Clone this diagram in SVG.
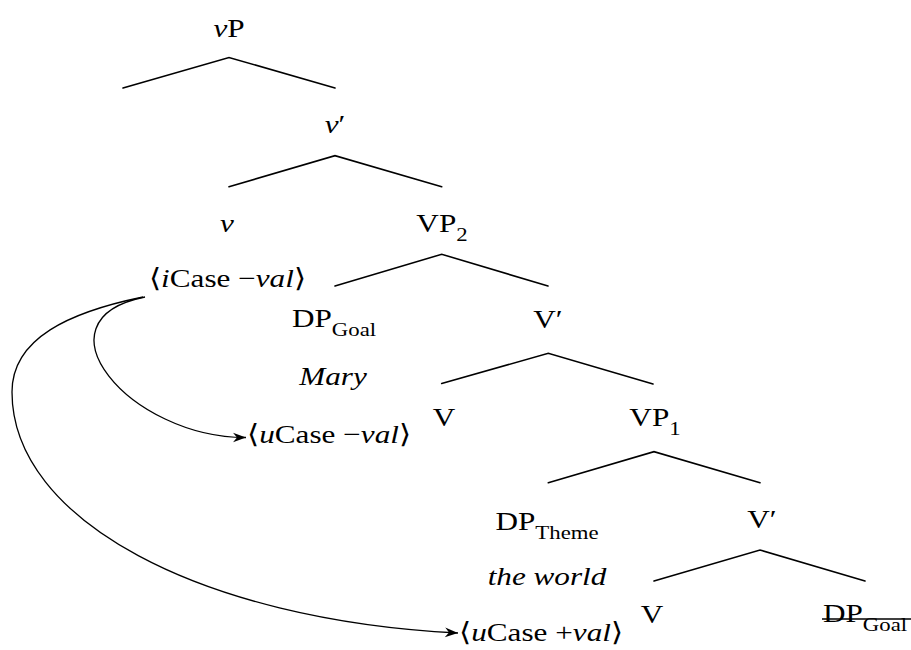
<svg xmlns="http://www.w3.org/2000/svg" width="911" height="650" viewBox="0 0 911 650">
  <defs>
    <style>
      .lbl { text-anchor: middle; }
      .it { font-style: italic; }
      .sub { font-size: 19px; }
      .edge { stroke: #000; stroke-width: 1.6; fill: none; stroke-linecap: round; }
      .agree { stroke: #000; stroke-width: 1.3; fill: none; marker-end: url(#stealth); }
      .strike { stroke: #000; stroke-width: 1.6; }
    </style>
    <marker id="stealth" markerUnits="userSpaceOnUse" viewBox="-14 -6 15 12" refX="0" refY="0" markerWidth="15" markerHeight="12" orient="auto">
      <path d="M0,0 L-13,-4.8 L-9,0 L-13,4.8 Z" fill="#000"/>
    </marker>
  </defs>

  <rect width="911" height="650" fill="#fff"/>

  <!-- tree branches and agreement arrows -->
  <g id="connectors">
    <polyline class="edge" points="123,88 229,57.5 335,88"/>
    <polyline class="edge" points="229,186.7 335,155.7 441.7,186.7"/>
    <polyline class="edge" points="335,286 441.7,254.3 548,286"/>
    <polyline class="edge" points="441.7,383.5 548.3,353.3 653,384"/>
    <polyline class="edge" points="548.3,482.7 654,451.7 760,482.7"/>
    <polyline class="edge" points="654,581 760,550 865,581"/>
    <path class="agree" d="M145,297 C30,320 130,438 246,437.5"/>
    <path class="agree" d="M143,297 C70,312 12,338 12,392 C12,520 200,620 458,633"/>
  </g>

  <!-- labels: serif type set slightly wide -->
  <g font-family="Liberation Serif, Times New Roman, DejaVu Serif, serif" font-size="26" fill="#000">
    <g id="vP"><text class="lbl" transform="translate(229,37) scale(1.2,1)"><tspan class="it">v</tspan>P</text></g>
    <g id="v-bar"><text class="lbl" transform="translate(335,133) scale(1.2,1)"><tspan class="it">v</tspan>′</text></g>
    <g id="v-head"><text class="lbl it" transform="translate(227,232) scale(1.2,1)">v</text></g>
    <g id="iCase"><text class="lbl" transform="translate(227.5,286.5) scale(1.2,1)">⟨<tspan class="it">i</tspan>Case −<tspan class="it">val</tspan>⟩</text></g>
    <g id="VP2"><text class="lbl" transform="translate(442,232) scale(1.2,1)">VP<tspan class="sub" dy="9">2</tspan></text></g>
    <g id="DP-goal"><text class="lbl" transform="translate(334,327) scale(1.2,1)">DP<tspan class="sub" dy="9">Goal</tspan></text></g>
    <g id="mary"><text class="lbl it" transform="translate(333,385) scale(1.2,1)">Mary</text></g>
    <g id="uCase-unvalued"><text transform="translate(247,443) scale(1.2,1)">⟨<tspan class="it">u</tspan>Case −<tspan class="it">val</tspan>⟩</text></g>
    <g id="V-bar-upper"><text class="lbl" transform="translate(548,328) scale(1.2,1)">V′</text></g>
    <g id="V-upper"><text class="lbl" transform="translate(444,426) scale(1.2,1)">V</text></g>
    <g id="VP1"><text class="lbl" transform="translate(655,426) scale(1.2,1)">VP<tspan class="sub" dy="9">1</tspan></text></g>
    <g id="DP-theme"><text class="lbl" transform="translate(547,530) scale(1.2,1)">DP<tspan class="sub" dy="9">Theme</tspan></text></g>
    <g id="the-world"><text class="lbl it" transform="translate(547,585) scale(1.2,1)">the world</text></g>
    <g id="V-bar-lower"><text class="lbl" transform="translate(762,528) scale(1.2,1)">V′</text></g>
    <g id="V-lower"><text class="lbl" transform="translate(652,623) scale(1.2,1)">V</text></g>
    <g id="uCase-valued"><text transform="translate(459,641) scale(1.2,1)">⟨<tspan class="it">u</tspan>Case +<tspan class="it">val</tspan>⟩</text></g>
    <g id="DP-goal-copy">
      <text class="lbl" transform="translate(865,622) scale(1.2,1)">DP<tspan class="sub" dy="9">Goal</tspan></text>
      <line class="strike" x1="822" y1="619" x2="911" y2="619"/>
    </g>
  </g>
</svg>
